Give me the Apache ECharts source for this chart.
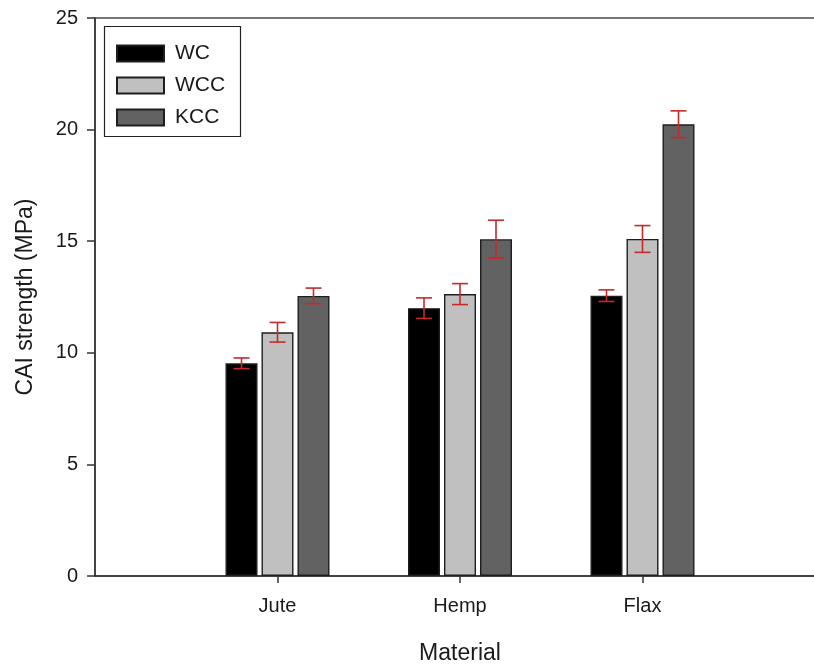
<!DOCTYPE html>
<html>
<head>
<meta charset="utf-8">
<script src="https://cdn.jsdelivr.net/npm/echarts@6/dist/echarts.min.js"></script>
<style>
  html, body { margin: 0; padding: 0; background: #fff; }
  #chart { width: 814px; height: 665px; }
</style>
</head>
<body>
<div id="chart"></div>
<script>
// data
var categories = ['Jute', 'Hemp', 'Flax'];
var seriesNames = ['WC', 'WCC', 'KCC'];
var wcValues = [9.53, 12.0, 12.56];
var wcErrors = [0.24, 0.46, 0.26];
var wccValues = [10.92, 12.63, 15.10];
var wccErrors = [0.44, 0.47, 0.6];
var kccValues = [12.55, 15.09, 20.24];
var kccErrors = [0.35, 0.85, 0.6];
var yTicks = [0, 5, 10, 15, 20, 25];

var values = [wcValues, wccValues, kccValues];
var errors = [wcErrors, wccErrors, kccErrors];
var fills = ['#000000', '#c0c0c0', '#626262'];

// axis slots: empty slot at each end so that Jute/Hemp/Flax sit at 1, 2, 3
var axisData = [''].concat(categories).concat(['']);

var barWidth = 32;
var barStep = 36;

var chart = echarts.init(document.getElementById('chart'));

var series = [];
seriesNames.forEach(function (name, s) {
  series.push({
    name: name,
    type: 'bar',
    barWidth: barWidth,
    barGap: ((barStep - barWidth) / barWidth * 100) + '%',
    itemStyle: { color: fills[s], borderColor: '#1e1e1e', borderWidth: 1.4 },
    data: ['-'].concat(values[s]).concat(['-'])
  });
});

var errData = [];
seriesNames.forEach(function (name, s) {
  values[s].forEach(function (v, i) {
    errData.push([i + 1, v, errors[s][i], s]);
  });
});

series.push({
  type: 'custom',
  z: 10,
  silent: true,
  data: errData,
  renderItem: function (params, api) {
    var idx = api.value(0);
    var v = api.value(1);
    var e = api.value(2);
    var s = api.value(3);
    var off = (s - 1) * barStep;
    var top = api.coord([idx, v + e]);
    var bot = api.coord([idx, v - e]);
    var x = top[0] + off;
    var half = 8;
    var style = { stroke: '#c62a2a', lineWidth: 1.6 };
    return {
      type: 'group',
      children: [
        { type: 'line', shape: { x1: x, y1: top[1], x2: x, y2: bot[1] }, style: style },
        { type: 'line', shape: { x1: x - half, y1: top[1], x2: x + half, y2: top[1] }, style: style },
        { type: 'line', shape: { x1: x - half, y1: bot[1], x2: x + half, y2: bot[1] }, style: style }
      ]
    };
  }
});

var option = {
  animation: false,
  textStyle: { fontFamily: 'Liberation Sans, Arial, sans-serif' },
  grid: {
    left: 95, width: 730, top: 18, bottom: 89,
    outerBoundsMode: 'none',
    containLabel: false,
    show: true, borderColor: '#4a4a4a', borderWidth: 1.5
  },
  legend: {
    data: seriesNames,
    orient: 'vertical',
    left: 116,
    top: 43,
    padding: 0,
    icon: 'rect',
    itemWidth: 47,
    itemHeight: 16,
    itemGap: 11,
    textStyle: { fontSize: 21, color: '#1a1a1a', padding: [0, 0, 0, 6] }
  },
  graphic: [{
    type: 'rect',
    left: 102,
    top: 24,
    shape: { width: 136, height: 110 },
    style: { fill: 'none', stroke: '#222', lineWidth: 1.2 },
    z: 5
  }],
  xAxis: {
    type: 'category',
    data: axisData,
    boundaryGap: false,
    name: 'Material',
    nameLocation: 'middle',
    nameGap: 66,
    nameTextStyle: { fontSize: 23, color: '#1a1a1a' },
    axisLine: { lineStyle: { color: '#333', width: 1.5 } },
    axisTick: {
      length: 7,
      lineStyle: { color: '#333', width: 1.5 },
      interval: function (i) { return i >= 1 && i <= categories.length; }
    },
    axisLabel: { fontSize: 20, color: '#1a1a1a', margin: 20, interval: 0 },
    splitLine: { show: false }
  },
  yAxis: {
    type: 'value',
    min: yTicks[0],
    max: yTicks[yTicks.length - 1],
    interval: yTicks[1] - yTicks[0],
    name: 'CAI strength (MPa)',
    nameLocation: 'middle',
    nameGap: 58,
    nameTextStyle: { fontSize: 23, color: '#1a1a1a' },
    axisLine: { show: true, lineStyle: { color: '#333', width: 1.5 } },
    axisTick: { show: true, length: 8, lineStyle: { color: '#333', width: 1.5 } },
    axisLabel: { fontSize: 20, color: '#1a1a1a', margin: 17 },
    splitLine: { show: false }
  },
  series: series
};

chart.setOption(option);
</script>
</body>
</html>
